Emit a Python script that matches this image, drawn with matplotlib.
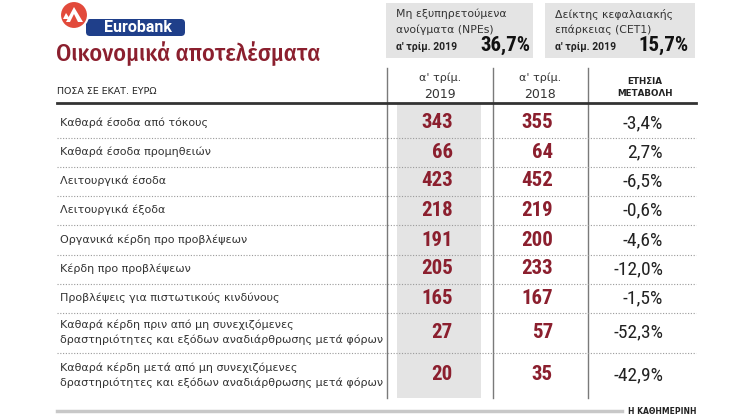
import matplotlib
matplotlib.use("Agg")
import matplotlib.pyplot as plt
from matplotlib.patches import Rectangle, FancyBboxPatch, Circle, Polygon

# ---------------- data ----------------
labels = [
    "Καθαρά έσοδα από τόκους",
    "Καθαρά έσοδα προμηθειών",
    "Λειτουργικά έσοδα",
    "Λειτουργικά έξοδα",
    "Οργανικά κέρδη προ προβλέψεων",
    "Κέρδη προ προβλέψεων",
    "Προβλέψεις για πιστωτικούς κινδύνους",
    "Καθαρά κέρδη πριν από μη συνεχιζόμενες\nδραστηριότητες και εξόδων αναδιάρθρωσης μετά φόρων",
    "Καθαρά κέρδη μετά από μη συνεχιζόμενες\nδραστηριότητες και εξόδων αναδιάρθρωσης μετά φόρων",
]
q1_2019 = [343, 66, 423, 218, 191, 205, 165, 27, 20]
q1_2018 = [355, 64, 452, 219, 200, 233, 167, 57, 35]
annual_change = [-3.4, 2.7, -6.5, -0.6, -4.6, -12.0, -1.5, -52.3, -42.9]
col_headers = [("α' τρίμ.", "2019"), ("α' τρίμ.", "2018")]
kpi_titles = [("Μη εξυπηρετούμενα", "ανοίγματα (NPEs)"), ("Δείκτης κεφαλαιακής", "επάρκειας (CET1)")]
kpi_period = ["α' τρίμ. 2019", "α' τρίμ. 2019"]
kpi_values = [36.7, 15.7]

# ---------------- fonts ----------------
plt.rcParams['font.family'] = ["DejaVu Sans"]
NARROW = ["Roboto Condensed", "PT Sans Narrow", "DejaVu Sans"]
TITLE = ["Fira Sans Condensed", "Roboto Condensed", "DejaVu Sans"]
LOGO = ["Roboto", "DejaVu Sans"]

RED = "#8b1f2e"
GRAY_BOX = "#e4e4e4"
LINE = "#7a7a7a"

fig = plt.figure(figsize=(7.5, 4.2), dpi=100)
ax = fig.add_axes([0, 0, 1, 1])
ax.set_xlim(0, 750)
ax.set_ylim(420, 0)
ax.axis("off")

# ---------------- logo ----------------
ax.add_patch(FancyBboxPatch((86, 19), 99, 17, boxstyle="round,pad=0,rounding_size=4",
                            fc="#1f3f8a", ec="none", zorder=2))
ax.text(138, 27.5, "Eurobank", color="white", fontsize=11.5, fontweight="bold",
        family=LOGO, ha="center", va="center", zorder=3)
ax.add_patch(Circle((74, 15), 14, fc="#e24a3b", ec="white", lw=1.5, zorder=4))
ax.add_patch(Polygon([(66, 22), (74, 7), (83, 22), (78, 22), (74, 14), (70, 22)],
                     closed=True, fc="white", ec="none", zorder=5))
ax.add_patch(Polygon([(63, 19), (66, 13), (70, 19)], closed=True, fc="white", ec="none", zorder=5))

# ---------------- title ----------------
ax.text(56, 54, "Οικονομικά αποτελέσματα", color=RED, fontsize=17.5, family=TITLE,
        fontweight=500, ha="left", va="center")
ax.text(57, 91, "ΠΟΣΑ ΣΕ ΕΚΑΤ. ΕΥΡΩ", color="#222", fontsize=6.8, ha="left", va="center")

# ---------------- KPI boxes ----------------
box_x = [386, 545]
box_w = [147, 150]
val_right = [530, 689]
for bx, bw, vr, (t1, t2), per, val in zip(box_x, box_w, val_right, kpi_titles, kpi_period, kpi_values):
    ax.add_patch(Rectangle((bx, 3), bw, 55, fc=GRAY_BOX, ec="none"))
    ax.text(bx + 10, 14, t1, fontsize=7.8, color="#333", ha="left", va="center")
    ax.text(bx + 10, 30, t2, fontsize=7.8, color="#333", ha="left", va="center")
    ax.text(bx + 10, 47, per, fontsize=7.5, fontweight="bold", family=LOGO,
            color="#222", ha="left", va="center")
    ax.text(vr, 45, f"{val:.1f}%".replace(".", ","), fontsize=15, fontweight="bold",
            family=NARROW, color="#111", ha="right", va="center")

# ---------------- table geometry ----------------
x_left, x_right = 57, 696
vlines = [387, 493, 588]
header_top, rule_y = 68, 103
row_y = [123, 152, 181, 210, 240, 269, 298, 332, 375]
seps = [137.5, 166.5, 195.5, 225, 254.5, 283.5, 313, 353]
body_bottom = 398

# header texts
col_centers = [440, 540]
for cx, (h1, h2) in zip(col_centers, col_headers):
    ax.text(cx, 78, h1, fontsize=8, color="#333", ha="center", va="center")
    ax.text(cx, 94, h2, fontsize=9, color="#333", ha="center", va="center")
ax.text(645, 82, "ΕΤΗΣΙΑ", fontsize=6.3, fontweight="bold", color="#222", ha="center", va="center")
ax.text(645, 94, "ΜΕΤΑΒΟΛΗ", fontsize=6.3, fontweight="bold", color="#222", ha="center", va="center")

# shaded 2019 column
ax.add_patch(Rectangle((397, rule_y), 84, body_bottom - rule_y, fc=GRAY_BOX, ec="none", zorder=0))

# vertical lines
for vx in vlines:
    ax.plot([vx, vx], [header_top, body_bottom], color=LINE, lw=1.0, zorder=1)

# thick rule
ax.plot([x_left, x_right], [rule_y, rule_y], color="#333", lw=2.0, zorder=2)

# dotted separators
for sy in seps:
    ax.plot([x_left, x_right], [sy, sy], color="#9a9a9a", lw=0.8, ls=(0, (1, 1.5)), zorder=2)

# rows
for y, lab, a, b, c in zip(row_y, labels, q1_2019, q1_2018, annual_change):
    ax.text(60, y, lab, fontsize=8, color="#333", ha="left", va="center", linespacing=1.5)
    ax.text(453, y, f"{a}", fontsize=15, fontweight="bold", family=NARROW, color=RED,
            ha="right", va="center", zorder=3)
    ax.text(553, y, f"{b}", fontsize=15, fontweight="bold", family=NARROW, color=RED,
            ha="right", va="center", zorder=3)
    ax.text(663, y, f"{c:.1f}%".replace(".", ","), fontsize=14, family=NARROW, color="#222",
            ha="right", va="center", zorder=3)

# bottom rule & source
ax.plot([x_left, 622], [411, 411], color="#c8c8c8", lw=2.5)
ax.text(696, 411, "Η ΚΑΘΗΜΕΡΙΝΗ", fontsize=5.5, fontweight="bold", color="#222",
        ha="right", va="center")

fig.savefig("out.png", dpi=100)
